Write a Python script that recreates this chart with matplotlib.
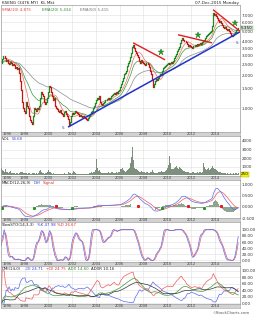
import numpy as np
import pandas as pd
import matplotlib
matplotlib.use('Agg')
import matplotlib.pyplot as plt
from matplotlib.ticker import FixedLocator, FixedFormatter, NullLocator

# ---------------- data (monthly, Jan 1996 - Dec 2015) ----------------
close_1996_1999 = [
    2.60, 2.80, 2.95, 3.00, 2.85, 2.70, 2.75, 2.60, 2.50, 2.65, 2.55, 2.45,
    2.50, 2.45, 2.30, 2.35, 2.25, 2.30, 2.10, 1.75, 1.45, 1.15, 1.00, 0.95,
    0.90, 1.15, 1.05, 1.00, 0.85, 0.78, 0.75, 0.72, 0.85, 1.00, 0.98, 0.95,
    1.00, 0.98, 1.05, 1.25, 1.40, 1.35, 1.30, 1.15, 1.10, 1.15, 1.25, 1.40]
close_2000_2004 = [
    1.60, 1.55, 1.40, 1.30, 1.20, 1.25, 1.05, 1.00, 0.98, 0.95, 0.92, 0.96,
    0.90, 0.88, 0.86, 0.92, 0.95, 0.88, 0.85, 0.80, 0.70, 0.75, 0.85, 0.90,
    0.88, 0.90, 0.95, 0.92, 0.90, 0.88, 0.85, 0.87, 0.86, 0.84, 0.86, 0.85,
    0.83, 0.82, 0.80, 0.79, 0.82, 0.85, 0.88, 0.92, 0.95, 1.00, 1.05, 1.12,
    1.18, 1.25, 1.22, 1.28, 1.15, 1.10, 1.08, 1.12, 1.15, 1.18, 1.20, 1.22]
close_2005_2009 = [
    1.24, 1.22, 1.25, 1.28, 1.32, 1.35, 1.38, 1.35, 1.40, 1.38, 1.42, 1.45,
    1.55, 1.65, 1.75, 1.90, 2.05, 2.10, 2.20, 2.40, 2.55, 2.70, 2.90, 3.20,
    3.60, 3.75, 3.50, 3.30, 3.15, 3.05, 2.90, 2.70, 2.60, 2.75, 2.65, 2.55,
    2.50, 2.45, 2.55, 2.60, 2.50, 2.35, 2.20, 2.05, 1.80, 1.55, 1.65, 1.75,
    1.85, 1.80, 1.90, 1.95, 2.05, 2.00, 2.20, 2.30, 2.35, 2.40, 2.45, 2.50]
close_2010_2015 = [
    2.55, 2.50, 2.60, 2.65, 2.60, 2.70, 2.85, 2.95, 3.10, 3.30, 3.45, 3.60,
    3.90, 4.20, 4.30, 4.15, 4.05, 4.10, 3.95, 3.80, 3.70, 3.75, 3.65, 3.60,
    3.55, 3.65, 3.70, 3.75, 3.70, 3.80, 3.75, 3.85, 3.90, 3.80, 3.85, 3.95,
    4.10, 4.20, 4.35, 4.50, 4.60, 4.70, 4.80, 4.90, 5.00, 5.60, 7.30, 7.00,
    7.20, 6.90, 6.60, 6.30, 6.00, 6.20, 5.90, 5.70, 5.50, 5.30, 5.40, 5.20,
    5.10, 5.20, 5.00, 4.80, 4.60, 4.50, 4.60, 4.70, 4.90, 5.10, 5.20, 5.35]

vol_1996_1999 = [
    900, 600, 500, 450, 700, 400, 350, 300, 350, 500, 300, 250,
    300, 250, 200, 250, 300, 200, 250, 350, 450, 400, 300, 250,
    350, 300, 250, 200, 300, 250, 200, 150, 250, 300, 250, 200,
    250, 200, 300, 550, 600, 400, 300, 250, 200, 250, 300, 450]
vol_2000_2004 = [
    650, 400, 350, 250, 200, 250, 200, 150, 150, 200, 150, 150,
    150, 200, 150, 200, 250, 150, 150, 200, 450, 300, 250, 200,
    300, 500, 450, 250, 200, 150, 150, 200, 150, 150, 150, 150,
    150, 150, 150, 150, 200, 250, 300, 350, 300, 400, 450, 600,
    1900, 900, 500, 600, 400, 300, 250, 300, 250, 300, 250, 300]
vol_2005_2009 = [
    350, 300, 250, 350, 400, 300, 300, 250, 350, 300, 350, 400,
    800, 700, 900, 600, 500, 450, 500, 600, 700, 900, 1500, 2100,
    3300, 1800, 900, 700, 800, 600, 500, 450, 400, 500, 400, 350,
    400, 350, 300, 400, 350, 300, 300, 350, 450, 600, 400, 300,
    300, 250, 300, 350, 400, 350, 500, 450, 400, 450, 500, 600]
vol_2010_2015 = [
    900, 1200, 2300, 1500, 800, 700, 800, 900, 1000, 1100, 900, 800,
    1000, 900, 800, 600, 500, 500, 400, 450, 400, 350, 300, 300,
    300, 350, 400, 300, 250, 300, 350, 300, 400, 350, 300, 400,
    1400, 1000, 700, 600, 800, 900, 600, 700, 900, 1100, 900, 700,
    700, 600, 500, 400, 350, 400, 300, 300, 250, 300, 250, 200,
    250, 200, 200, 250, 200, 200, 250, 200, 300, 250, 200, 250]

year_labels = ['1996', '1998', '2000', '2002', '2004', '2006', '2008', '2010', '2012', '2014']
price_ticks = [1.0, 1.5, 2.0, 2.5, 3.0, 3.5, 4.0, 5.0, 6.0, 7.0]
vol_ticks = [1000, 2000, 3000, 4000]

# hand-drawn annotations (year, price)
support_x = [2001.66, 2016.11]
support_y = [0.676, 4.93]
resist1_x = [2007.13, 2009.81]
resist1_y = [3.92, 2.75]
resist2_x = [2010.90, 2013.76]
resist2_y = [4.64, 3.92]
resist3_x = [2013.84, 2016.28]
resist3_y = [7.83, 4.83]
star_x = [2009.47, 2012.58, 2015.69]
star_y = [3.25, 4.64, 5.96]

# ---------------- derived series ----------------
close = np.array(close_1996_1999 + close_2000_2004 + close_2005_2009 + close_2010_2015)
volume = np.array(vol_1996_1999 + vol_2000_2004 + vol_2005_2009 + vol_2010_2015, float)
n = len(close)
t = 1996 + (np.arange(n) + 0.5) / 12.0
s = pd.Series(close)
opn = np.r_[close[0], close[:-1]]
hi = np.maximum(opn, close)
lo = np.minimum(opn, close)

sma10 = s.rolling(10, min_periods=1).mean()
ema20 = s.ewm(span=20, adjust=False).mean()
ema50 = s.ewm(span=50, adjust=False).mean()

macd = s.ewm(span=12, adjust=False).mean() - s.ewm(span=26, adjust=False).mean()
sig = macd.ewm(span=9, adjust=False).mean()
hist = macd - sig

hh = s.rolling(14, min_periods=1).max()
ll = s.rolling(14, min_periods=1).min()
fk = (100 * (s - ll) / (hh - ll).replace(0, np.nan)).fillna(50)
slow_k = fk.rolling(3, min_periods=1).mean()
slow_d = slow_k.rolling(3, min_periods=1).mean()

H = pd.Series(hi); L = pd.Series(lo)
up = H.diff().fillna(0); dn = (-L.diff()).fillna(0)
pdm = np.where((up > dn) & (up > 0), up, 0.0)
mdm = np.where((dn > up) & (dn > 0), dn, 0.0)
tr = pd.concat([H - L, (H - s.shift()).abs(), (L - s.shift()).abs()], axis=1).max(axis=1).fillna(0)
a = 1 / 14
atr = tr.ewm(alpha=a, adjust=False).mean().replace(0, np.nan)
pdi = (100 * pd.Series(pdm).ewm(alpha=a, adjust=False).mean() / atr).fillna(0)
mdi = (100 * pd.Series(mdm).ewm(alpha=a, adjust=False).mean() / atr).fillna(0)
dx = (100 * (pdi - mdi).abs() / (pdi + mdi).replace(0, np.nan)).fillna(0)
adx = dx.ewm(alpha=a, adjust=False).mean()
adxr = (adx + adx.shift(14).bfill()) / 2

# ---------------- figure ----------------
W, Hh = 256, 320
fig = plt.figure(figsize=(W / 100, Hh / 100), dpi=100)
fig.patch.set_facecolor('white')

def R(x0, y0, x1, y1):
    return [x0 / W, 1 - y1 / Hh, (x1 - x0) / W, (y1 - y0) / Hh]

XL = (1996.025, 2016.11)
FS = 3.0
grid_c = '#e0e0e0'
even_years = [int(y) for y in year_labels]

def style(ax):
    ax.set_xlim(*XL)
    ax.set_facecolor('white')
    for sp in ax.spines.values():
        sp.set_color('#9a9a9a')
        sp.set_linewidth(0.5)
    ax.xaxis.set_major_locator(FixedLocator(even_years))
    ax.tick_params(axis='x', length=0, labelbottom=False)
    ax.yaxis.tick_right()
    ax.tick_params(axis='y', length=0, pad=1.2, labelsize=FS, labelcolor='#333333')
    ax.grid(True, color=grid_c, lw=0.4)
    ax.set_axisbelow(True)

def strip(y0, y1):
    ax = fig.add_axes(R(1, y0, 240, y1))
    ax.set_xlim(*XL); ax.set_ylim(0, 1)
    ax.set_facecolor('#d2d2d2')
    ax.set_xticks([]); ax.set_yticks([])
    for sp in ax.spines.values():
        sp.set_color('#9a9a9a'); sp.set_linewidth(0.4)
    for i, lab in enumerate(year_labels):
        yv = int(lab)
        if i == 0:
            ax.text(XL[0] + 0.1, 0.45, lab, fontsize=2.6, ha='left', va='center', color='#444444')
        else:
            ax.text(yv, 0.45, lab, fontsize=2.6, ha='center', va='center', color='#444444')

# header
fig.text(2 / W, 1 - 2.6 / Hh, 'KSENG (3476.MY)  KL Mkt', fontsize=3, va='center', ha='left', color='#222222')
fig.text(239 / W, 1 - 2.6 / Hh, '07-Dec-2015 Monday', fontsize=3, va='center', ha='right', color='#222222')

# ---- price panel
ax = fig.add_axes(R(1, 5, 240, 132))
ax.set_yscale('log')
style(ax)
ax.set_ylim(0.61, 8.63)
ax.yaxis.set_major_locator(FixedLocator(price_ticks))
ax.yaxis.set_major_formatter(FixedFormatter(['%.3f' % v for v in price_ticks]))
ax.yaxis.set_minor_locator(NullLocator())
ax.plot(t, ema50, color='#8c8c8c', lw=0.5)
ax.plot(t, ema20, color='#3c9a3c', lw=0.5)
ax.plot(t, sma10, color='#ef6a6a', lw=0.5)
upm = close >= opn
ax.vlines(t[upm], lo[upm], hi[upm], color='#1f8a1f', lw=0.9, capstyle='projecting')
ax.vlines(t[~upm], lo[~upm], hi[~upm], color='#c81414', lw=0.9, capstyle='projecting')
ax.plot(support_x, support_y, color='#2233cc', lw=1.1, solid_capstyle='butt')
for xs, ys in [(resist1_x, resist1_y), (resist2_x, resist2_y), (resist3_x, resist3_y)]:
    ax.plot(xs, ys, color='#e01e1e', lw=1.0, solid_capstyle='butt')
ax.plot(star_x, star_y, ls='none', marker='*', ms=4.5, color='#22a022', mec='#177017', mew=0.3)
ax.text(support_x[0] - 0.45, 0.66, '5', fontsize=3, color='#2233cc', ha='center', va='center')
ax.text(2015.86, 3.92, '5', fontsize=3, color='#2233cc', ha='center', va='center')
ax.text(0.004, 0.975, 'SMA(10) %.3f' % sma10.iloc[-1], transform=ax.transAxes, fontsize=2.8, color='#e04040', va='top')
ax.text(0.17, 0.975, 'EMA(20) 5.434', transform=ax.transAxes, fontsize=2.8, color='#2e8b2e', va='top')
ax.text(0.33, 0.975, 'EMA(50) 5.415', transform=ax.transAxes, fontsize=2.8, color='#777777', va='top')
ax.text(1.004, close[-1], '%.3f' % close[-1], transform=ax.get_yaxis_transform(), fontsize=FS,
        va='center', ha='left', color='#111111',
        bbox=dict(boxstyle='square,pad=0.1', fc='#cfe3cf', ec='#7a9a7a', lw=0.3))
strip(132, 136)

# ---- volume panel
ax = fig.add_axes(R(1, 136, 240, 176))
style(ax)
ax.set_ylim(-60, 4580)
ax.yaxis.set_major_locator(FixedLocator(vol_ticks))
ax.yaxis.set_major_formatter(FixedFormatter([str(v) for v in vol_ticks]))
ax.bar(t, volume, width=1 / 12, color='#7d8f7d', lw=0)
ax.text(0.004, 0.97, 'VOL', transform=ax.transAxes, fontsize=2.8, color='#222222', va='top')
ax.text(0.045, 0.97, '54.68', transform=ax.transAxes, fontsize=2.8, color='#3344dd', va='top')
ax.text(1.004, 150, '%d' % volume[-1], transform=ax.get_yaxis_transform(), fontsize=FS,
        va='center', ha='left', color='#111111',
        bbox=dict(boxstyle='square,pad=0.1', fc='#f2f200', ec='#aaaa00', lw=0.3))
strip(176, 180)

# ---- MACD panel
ax = fig.add_axes(R(1, 180, 240, 218))
style(ax)
ax.set_ylim(-0.5, 1.22)
mt = [-0.5, 0.0, 0.5, 1.0]
ax.yaxis.set_major_locator(FixedLocator(mt))
ax.yaxis.set_major_formatter(FixedFormatter(['%.3f' % v for v in mt]))
ax.bar(t, hist, width=1 / 12 * 0.8, color='#8fa58f', lw=0)
ax.plot(t, sig, color='#f05a5a', lw=0.5)
ax.plot(t, macd, color='#5a6cf0', lw=0.5)
sgn = np.sign(hist.values)
cross_up, cross_dn, last = [], [], -99
for i in range(1, n):
    if sgn[i] != sgn[i - 1] and sgn[i] != 0 and i - last >= 8:
        (cross_up if sgn[i] > 0 else cross_dn).append(i)
        last = i
ax.plot(t[cross_up], np.full(len(cross_up), -0.05), ls='none', marker='s', ms=1.2, color='#1f9a1f')
ax.plot(t[cross_dn], np.full(len(cross_dn), 0.06), ls='none', marker='s', ms=1.2, color='#e02020')
ax.text(0.004, 0.97, 'MACD(12,26,9)', transform=ax.transAxes, fontsize=2.8, color='#222222', va='top')
ax.text(0.135, 0.97, 'Diff', transform=ax.transAxes, fontsize=2.8, color='#3344dd', va='top')
ax.text(0.175, 0.97, 'Signal', transform=ax.transAxes, fontsize=2.8, color='#e03030', va='top')
strip(218, 222)

# ---- Stochastic panel
ax = fig.add_axes(R(1, 222, 240, 262))
style(ax)
ax.set_ylim(-5, 125)
st = [0, 20, 40, 60, 80, 100]
ax.yaxis.set_major_locator(FixedLocator(st))
ax.yaxis.set_major_formatter(FixedFormatter(['%.2f' % v for v in st]))
ax.plot(t, slow_d, color='#f05a5a', lw=0.5)
ax.plot(t, slow_k, color='#5a6cf0', lw=0.5)
ax.text(0.004, 0.97, 'SlowSTO(14,3,3)', transform=ax.transAxes, fontsize=2.8, color='#222222', va='top')
ax.text(0.15, 0.97, '%K 47.98', transform=ax.transAxes, fontsize=2.8, color='#3344dd', va='top')
ax.text(0.235, 0.97, '%D 26.67', transform=ax.transAxes, fontsize=2.8, color='#e03030', va='top')
strip(262, 266)

# ---- DMI panel
ax = fig.add_axes(R(1, 266, 240, 304))
style(ax)
ax.set_ylim(-3, 115)
dt = [0, 20, 40, 60, 80, 100]
ax.yaxis.set_major_locator(FixedLocator(dt))
ax.yaxis.set_major_formatter(FixedFormatter(['%.2f' % v for v in dt]))
ax.plot(t, mdi, color='#5a6cf0', lw=0.5)
ax.plot(t, pdi, color='#f05a5a', lw=0.5)
ax.plot(t, adx, color='#3a9a3a', lw=0.5)
ax.plot(t, adxr, color='#333333', lw=0.5)
ax.text(0.004, 0.97, 'DMI(14,0)', transform=ax.transAxes, fontsize=2.8, color='#222222', va='top')
ax.text(0.1, 0.97, '-DI 24.71', transform=ax.transAxes, fontsize=2.8, color='#3344dd', va='top')
ax.text(0.19, 0.97, '+DI 24.75', transform=ax.transAxes, fontsize=2.8, color='#e03030', va='top')
ax.text(0.28, 0.97, 'ADX 14.60', transform=ax.transAxes, fontsize=2.8, color='#2e8b2e', va='top')
ax.text(0.375, 0.97, 'ADXR 10.16', transform=ax.transAxes, fontsize=2.8, color='#222222', va='top')
strip(304, 308)

fig.text(250 / W, 1 - 313 / Hh, '\u00a9StockCharts.com', fontsize=2.8, ha='right', va='center', color='#555555')

fig.savefig('out.png', dpi=100, facecolor='white')
